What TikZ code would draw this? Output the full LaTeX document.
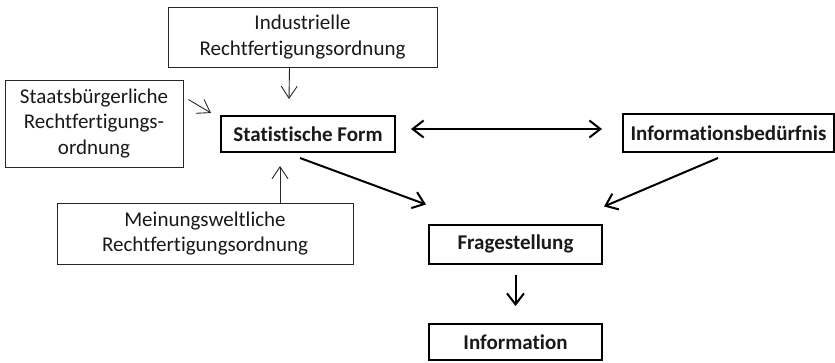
\documentclass[tikz,border=0pt]{standalone}
\usepackage{fontspec}
\setmainfont{Carlito}[Ligatures=NoCommon]
\usetikzlibrary{arrows.meta}
\begin{document}
\begin{tikzpicture}[x=1pt,y=-1pt,
  txt/.style={font=\fontsize{21}{25.5}\selectfont, align=center, inner sep=0pt, text=black!90},
  thinbox/.style={txt, draw=black!85, line width=0.9pt},
  thickbox/.style={txt, draw=black, line width=2pt, font=\fontsize{21}{25.5}\selectfont\bfseries},
  thinarrow/.style={draw=black!85, line width=0.9pt, -{Straight Barb[length=12pt,width=16pt]}},
  thickarrow/.style={draw=black, line width=2pt, -{Straight Barb[length=11pt,width=17pt]}},
  bothway/.style={thickarrow, {Straight Barb[length=11pt,width=17pt]}-{Straight Barb[length=11pt,width=17pt]}}
]
\useasboundingbox (0,0) rectangle (835,362);

% context boxes (orders of justification)
\node[thinbox, minimum width=269pt, minimum height=60pt] (ind) at (302.5,37)
  {Industrielle\\Rechtfertigungsordnung};
\node[thinbox, minimum width=178pt, minimum height=87pt] (sta) at (94,123.5)
  {Staatsbürgerliche\\Rechtfertigungs-\\ordnung};
\node[thinbox, minimum width=296pt, minimum height=61pt] (mei) at (205,233.5)
  {Meinungsweltliche\\Rechtfertigungsordnung};

% main chain
\node[thickbox, minimum width=174pt, minimum height=36pt] (form) at (308,134) {Statistische Form};
\node[thickbox, minimum width=211pt, minimum height=38pt] (bed) at (728.5,133) {Informationsbedürfnis};
\node[thickbox, minimum width=173pt, minimum height=39pt] (fra) at (515.5,244) {Fragestellung};
\node[thickbox, minimum width=173pt, minimum height=36pt] (inf) at (515.5,342) {Information};

% influences on the statistical form
\draw[thinarrow] ([xshift=-13pt]ind.south) -- ([xshift=-19pt,yshift=16pt]form.north);
\draw[thinarrow] ([xshift=5pt,yshift=-20pt]sta.north east) -- ([xshift=-9pt,yshift=2pt]form.north west);
\draw[thinarrow] ([xshift=75pt]mei.north) -- ([xshift=-28pt,yshift=-13pt]form.south);

% links between the main boxes
\draw[bothway] ([xshift=15pt,yshift=5pt]form.east) -- ([xshift=-20pt,yshift=4pt]bed.west);
\draw[thickarrow] ([xshift=-8pt,yshift=-5pt]form.south) -- ([xshift=-2pt,yshift=19pt]fra.north west);
\draw[thickarrow] ([xshift=-10.5pt,yshift=-5pt]bed.south) -- ([xshift=1pt,yshift=17pt]fra.north east);
\draw[thickarrow] ([yshift=-10pt]fra.south) -- ([yshift=17pt]inf.north);
\end{tikzpicture}
\end{document}
